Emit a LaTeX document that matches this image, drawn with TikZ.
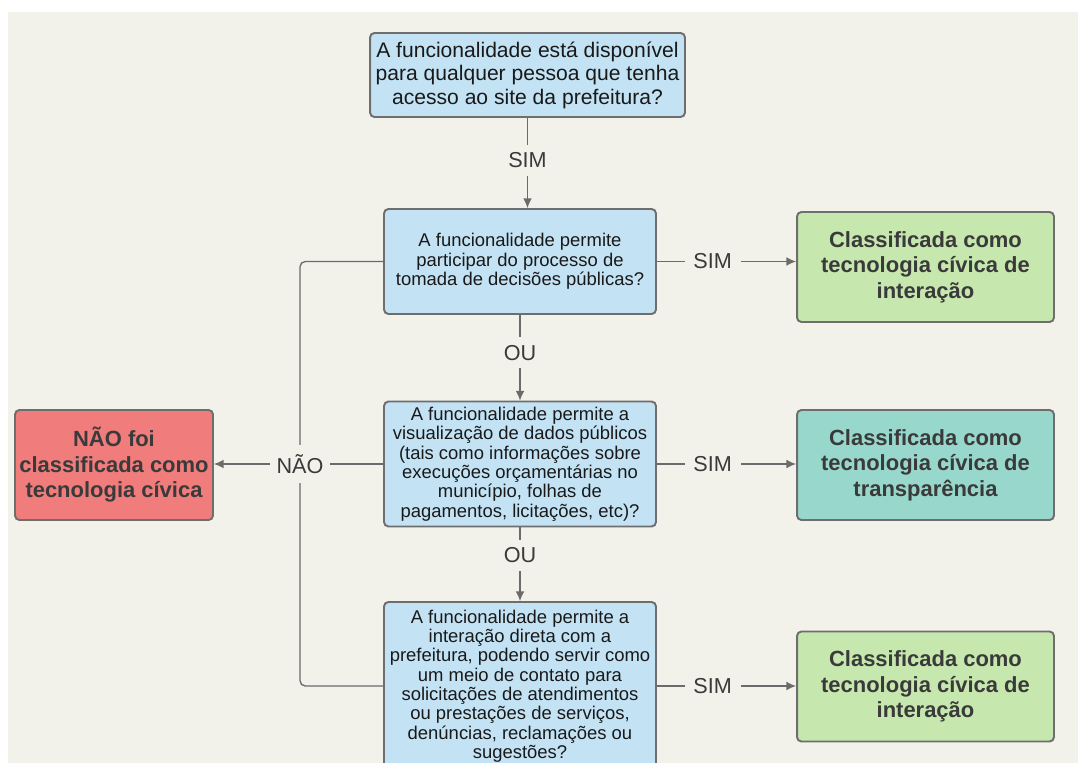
\documentclass[tikz,border=0pt]{standalone}
\usepackage{fontspec}
\setmainfont{Liberation Sans}
\usetikzlibrary{arrows.meta}

\definecolor{paper}{HTML}{F2F1EA}
\definecolor{askfill}{HTML}{C3E3F5}
\definecolor{okfill}{HTML}{C6E8AE}
\definecolor{tealfill}{HTML}{98D7CB}
\definecolor{nofill}{HTML}{F07C7C}
\definecolor{edge}{HTML}{6E6E6E}
\definecolor{wire}{HTML}{6B6B6B}
\definecolor{ink}{HTML}{3A3A3A}

\tikzset{
  box/.style={draw=edge, line width=1.1pt, rounded corners=2.5pt, align=center, inner sep=0pt},
  ask/.style={box, fill=askfill, text=black!90, font=\fontsize{10.5}{11}\selectfont, minimum width=5.44cm},
  res/.style={box, text=ink, font=\bfseries\fontsize{12.5}{14.5}\selectfont, minimum width=5.14cm, minimum height=2.2cm},
  conn/.style={draw=wire, line width=0.75pt},
  arr/.style={conn, -{Latex[length=5.5pt,width=5pt]}},
  lbl/.style={fill=paper, text=ink, font=\fontsize{12.3}{14}\selectfont, inner xsep=5pt, inner ysep=4.5pt}
}

\begin{document}
\begin{tikzpicture}[x=0.02cm, y=-0.02cm]
    \useasboundingbox (0,0) rectangle (1078,763);
    \fill[white] (0,0) rectangle (1078,763);
    \fill[paper] (8,12) rectangle (1078,763);

    % perguntas
    \node[ask, font=\fontsize{12}{13.4}\selectfont, minimum width=6.3cm, minimum height=1.68cm] (q1) at (527.5,75)
        {A funcionalidade está disponível\\para qualquer pessoa que tenha\\acesso ao site da prefeitura?};
    \node[ask, minimum height=2.1cm] (q2) at (520,261.5)
        {A funcionalidade permite\\participar do processo de\\tomada de decisões públicas?};
    \node[ask, minimum height=2.5cm] (q3) at (520,464)
        {A funcionalidade permite a\\visualização de dados públicos\\(tais como informações sobre\\execuções orçamentárias no\\município, folhas de\\pagamentos, licitações, etc)?};
    \node[ask, minimum height=3.36cm] (q4) at (520,686)
        {A funcionalidade permite a\\interação direta com a\\prefeitura, podendo servir como\\um meio de contato para\\solicitações de atendimentos\\ou prestações de serviços,\\denúncias, reclamações ou\\sugestões?};

    % resultados
    \node[res, fill=okfill] (r1) at (925.5,267) {Classificada como\\tecnologia cívica de\\interação};
    \node[res, fill=tealfill] (r2) at (925.5,465) {Classificada como\\tecnologia cívica de\\transparência};
    \node[res, fill=okfill] (r3) at (925.5,686.5) {Classificada como\\tecnologia cívica de\\interação};
    \node[res, fill=nofill, minimum width=3.96cm] (nao) at (114,465) {NÃO foi\\classificada como\\tecnologia cívica};

    % ligacoes
    \draw[arr] (q1.south) -- node[lbl, pos=0.47] {SIM} (q1.south |- q2.north);
    \draw[arr] (q2.south) -- node[lbl, pos=0.44] {OU} (q3.north);
    \draw[arr] (q3.south) -- node[lbl, pos=0.38] {OU} (q4.north);

    \draw[arr] (q2.east) -- node[lbl, pos=0.4] {SIM} (q2.east -| r1.west);
    \draw[arr] (q3.east) -- node[lbl, pos=0.4] {SIM} (q3.east -| r2.west);
    \draw[arr] (q4.east) -- node[lbl, pos=0.4] {SIM} (q4.east -| r3.west);

    \coordinate (jn) at (q3.west -| 300,0);
    \draw[conn, rounded corners=3pt] (q2.west) -| (jn) |- (q4.west);
    \draw[conn] (q3.west) -- (jn);
    \draw[arr] (jn) -- (jn -| nao.east);
    \node[lbl, inner xsep=3.5pt, inner ysep=5.5pt] (nolbl) at (jn) {NÃO};
\end{tikzpicture}
\end{document}
